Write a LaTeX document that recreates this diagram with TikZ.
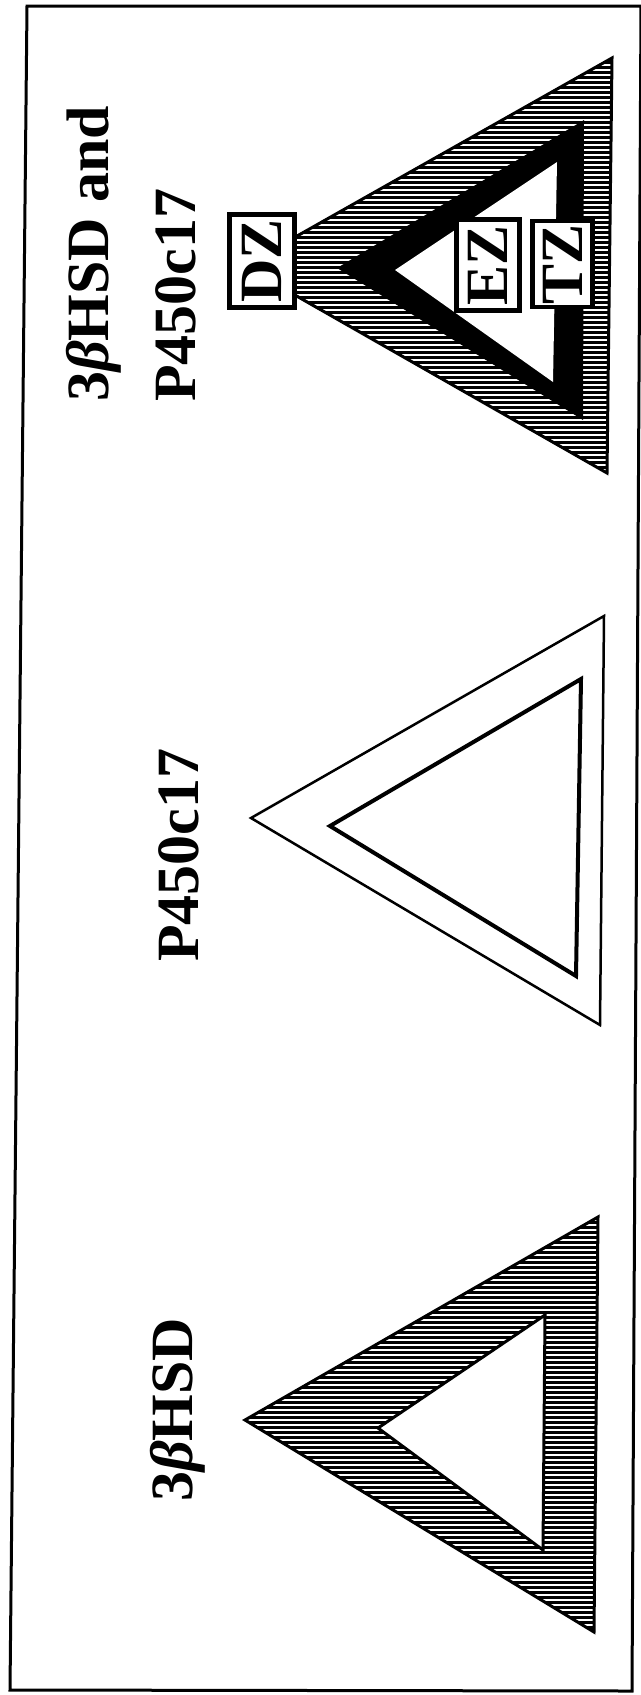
\documentclass[tikz,border=0pt]{standalone}
\usepackage{fontspec}
\setmainfont{Liberation Serif}
\begin{document}
\begin{tikzpicture}[x=1pt,y=-1pt,
  lbl/.style={font=\fontsize{60}{84}\selectfont\bfseries, rotate=90, inner sep=0pt},
  zbox/.style={draw, line width=4.5pt, fill=white, rotate=90, font=\fontsize{60}{62}\selectfont\bfseries, inner sep=0pt},
  edgeline/.style={line width=3pt, line join=miter},
  hatchline/.style={line width=3pt}]
\useasboundingbox (0,0) rectangle (640,1695);
% frame
\draw[line width=3pt] (27,6) -- (641,6) -- (632,1691) -- (10,1690) -- cycle;

% ---------- top triangle: 3bHSD and P450c17 ----------
\coordinate (A1) at (244,266);
\coordinate (B1) at (612,58);
\coordinate (C1) at (607,473);
\begin{scope}
  \clip (A1) -- (B1) -- (C1) -- cycle;
  \foreach \yy in {52,57,...,480} \draw[hatchline] (200,\yy) -- (650,\yy);
\end{scope}
\draw[edgeline] (A1) -- (B1) -- (C1) -- cycle;
\fill (337,268) -- (584,120) -- (583,420) -- cycle;
\fill[white] (395,270) -- (557,162) -- (553,382) -- cycle;

\node[zbox, minimum width=93pt, minimum height=65pt] (dz) at (262,261) {DZ};
\node[zbox, minimum width=91pt, minimum height=63pt] (ez) at (488,265) {EZ};
\node[zbox, minimum width=86pt, minimum height=60pt] (tz) at (562.5,264) {TZ};

\node[lbl, anchor=base west] (t1a) at (108,402) {3\textit{β}HSD and};
\node[lbl, anchor=base west] (t1b) at (195,402) {P450c17};

% ---------- middle triangle: P450c17 ----------
\coordinate (A2) at (251,818);
\coordinate (B2) at (604,616);
\coordinate (C2) at (600,1025);
\draw[line width=2.5pt] (A2) -- (B2) -- (C2) -- cycle;
\draw[line width=4pt] (330,826) -- (581,679) -- (576,976) -- cycle;
\node[lbl, anchor=base west] (t2) at (198,962) {P450c17};

% ---------- bottom triangle: 3bHSD ----------
\coordinate (A3) at (245,1420);
\coordinate (B3) at (598,1217);
\coordinate (C3) at (594,1632);
\begin{scope}
  \clip (A3) -- (B3) -- (C3) -- cycle;
  \foreach \yy in {1212,1217,...,1640} \draw[hatchline] (200,\yy) -- (650,\yy);
\end{scope}
\draw[edgeline] (A3) -- (B3) -- (C3) -- cycle;
\draw[line width=3pt, fill=white] (378,1428) -- (545,1315) -- (543,1550) -- cycle;
\node[lbl, anchor=base west] (t3) at (192,1502) {3\textit{β}HSD};
\end{tikzpicture}
\end{document}
